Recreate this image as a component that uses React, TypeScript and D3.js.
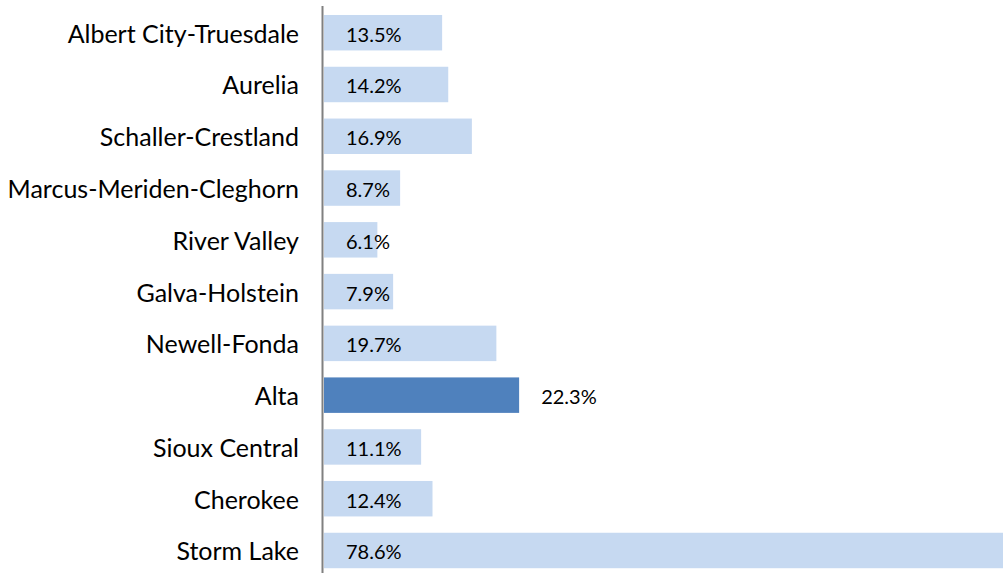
import * as d3 from 'd3';
import { useEffect, useRef } from 'react';

const districts = [
  'Albert City-Truesdale',
  'Aurelia',
  'Schaller-Crestland',
  'Marcus-Meriden-Cleghorn',
  'River Valley',
  'Galva-Holstein',
  'Newell-Fonda',
  'Alta',
  'Sioux Central',
  'Cherokee',
  'Storm Lake',
];
const shares = [13.5, 14.2, 16.9, 8.7, 6.1, 7.9, 19.7, 22.3, 11.1, 12.4, 78.6];
const highlighted = 'Alta';

const width = 1003;
const height = 573;
const barColor = '#c6d9f1';
const highlightColor = '#4f81bd';
const axisColor = '#808080';
const fontFamily = 'Lato, "Open Sans", sans-serif';

const App = () => {
  const svgRef = useRef<SVGSVGElement | null>(null);

  useEffect(() => {
    if (!svgRef.current) return;
    const svg = d3.select(svgRef.current);
    svg.selectAll('*').remove();

    const left = 324;
    const y = d3.scaleBand().domain(districts).range([6.7, 576.5]).paddingInner(0.315).paddingOuter(0.16);
    const x = d3.scaleLinear().domain([0, 10]).range([left, left + 87.5]);

    const entries = districts.map((label, index) => ({ label, value: shares[index] }));

    svg
      .append('g')
      .selectAll('rect')
      .data(entries)
      .join('rect')
      .attr('x', left)
      .attr('y', (d) => y(d.label)!)
      .attr('width', (d) => x(d.value) - left)
      .attr('height', y.bandwidth())
      .attr('fill', (d) => (d.label === highlighted ? highlightColor : barColor));

    svg
      .append('g')
      .selectAll('text')
      .data(entries)
      .join('text')
      .attr('x', (d) => (d.label === highlighted ? x(d.value) + 22 : left + 22))
      .attr('y', (d) => y(d.label)! + y.bandwidth() / 2 + 1)
      .attr('dominant-baseline', 'central')
      .attr('fill', '#000')
      .style('font-family', fontFamily)
      .style('font-size', '20px')
      .text((d) => `${d.value.toFixed(1)}%`);

    svg
      .append('g')
      .selectAll('text')
      .data(entries)
      .join('text')
      .attr('x', 299)
      .attr('y', (d) => y(d.label)! + y.bandwidth() / 2)
      .attr('dominant-baseline', 'central')
      .attr('text-anchor', 'end')
      .attr('fill', '#000')
      .style('font-family', fontFamily)
      .style('font-size', '25px')
      .text((d) => d.label);

    svg
      .append('line')
      .attr('x1', 322.5)
      .attr('x2', 322.5)
      .attr('y1', 6)
      .attr('y2', height)
      .attr('stroke', axisColor)
      .attr('stroke-width', 2);
  }, []);

  return (
    <div style={{ position: 'absolute', left: 0, top: 0, width, height, background: '#fff' }}>
      <svg ref={svgRef} width={width} height={height} style={{ display: 'block' }} />
    </div>
  );
};

export default App;
